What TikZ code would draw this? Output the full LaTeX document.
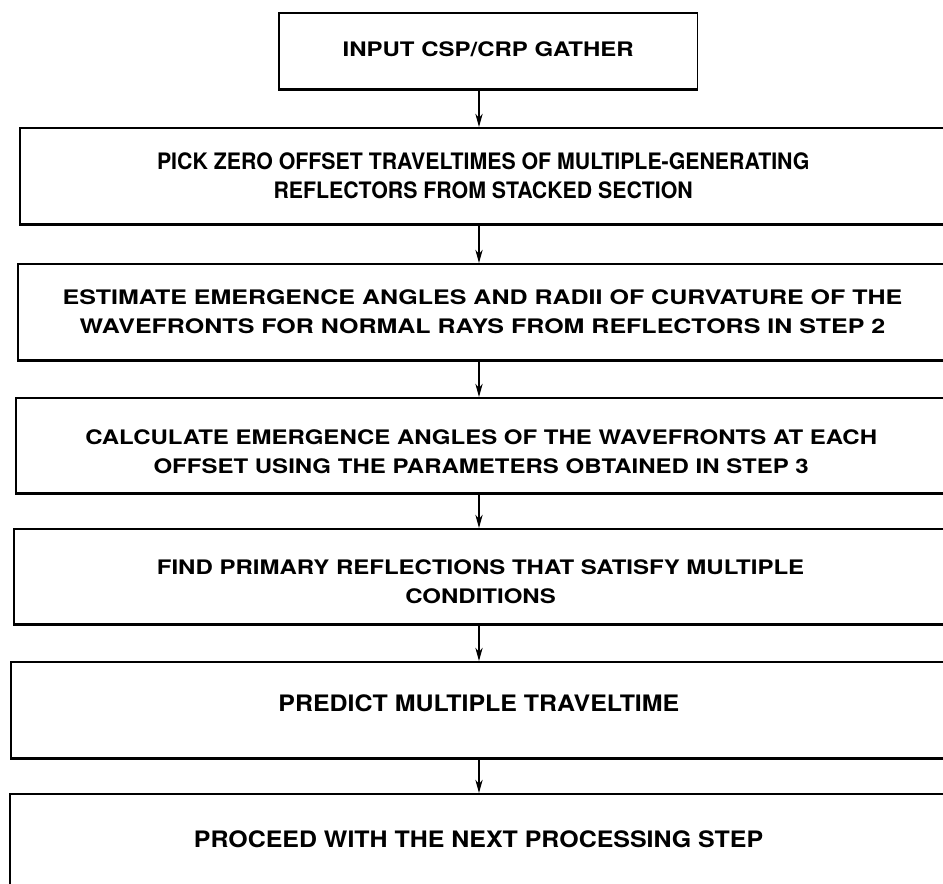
\documentclass[tikz,border=0pt]{standalone}
\usepackage{fontspec}
\setmainfont{TeX Gyre Heros}
\newfontfamily\widefont[FakeStretch=1.2]{TeX Gyre Heros}
\newfontfamily\widerfont[FakeStretch=1.25]{TeX Gyre Heros}
\newfontfamily\narrowfont[FakeStretch=0.94]{TeX Gyre Heros}
\newfontfamily\midfont[FakeStretch=1.1]{TeX Gyre Heros}
\usetikzlibrary{arrows.meta}
\tikzset{stepbox/.style={draw,line width=1.3pt,anchor=north west,inner sep=0pt}}
\tikzset{steptext/.style={align=center,inner sep=0pt,font=\widefont\bfseries\fontsize{15}{21.75}\selectfont}}
\tikzset{narrowtext/.style={steptext,font=\narrowfont\bfseries\fontsize{17}{21.75}\selectfont}}
\tikzset{flow/.style={-{Stealth[length=10pt,width=5.5pt]},line width=1.1pt}}

\begin{document}
\begin{tikzpicture}[x=0.75pt,y=-0.75pt]
    \useasboundingbox (0,0) rectangle (943,884);
    % boxes
    \node [stepbox,minimum width=314pt,minimum height=57pt] (b1) at (278,12) {};
    \node [stepbox,minimum width=695pt,minimum height=72pt] (b2) at (19,127) {};
    \node [stepbox,minimum width=697pt,minimum height=72pt] (b3) at (17,263) {};
    \node [stepbox,minimum width=698pt,minimum height=71pt] (b4) at (15,397) {};
    \node [stepbox,minimum width=700pt,minimum height=71pt] (b5) at (13,528) {};
    \node [stepbox,minimum width=702pt,minimum height=72pt] (b6) at (10,661) {};
    \node [stepbox,minimum width=703pt,minimum height=68pt] (b7) at (9,793) {};
    % heavier bottom edges
    \foreach \b in {b1,b2,b3,b4,b5,b6}
        \draw [line width=2.2pt] (\b.south west) -- (\b.south east);
    % texts
    \node [steptext] (t1) at ([yshift=1pt]b1.center) {INPUT CSP/CRP GATHER};
    \node [narrowtext] (t2) at (b2.center)
        {PICK ZERO OFFSET TRAVELTIMES OF MULTIPLE-GENERATING\\REFLECTORS FROM STACKED SECTION};
    \node [steptext,font=\widerfont\bfseries\fontsize{15}{21.75}\selectfont] (t3) at (b3.center)
        {ESTIMATE EMERGENCE ANGLES AND RADII OF CURVATURE OF THE\\WAVEFRONTS FOR NORMAL RAYS FROM REFLECTORS IN STEP 2};
    \node [steptext] (t4) at ([yshift=-5pt]b4.center)
        {CALCULATE EMERGENCE ANGLES OF THE WAVEFRONTS AT EACH\\OFFSET USING THE PARAMETERS OBTAINED IN STEP 3};
    \node [steptext] (t5) at ([yshift=-4.5pt]b5.center)
        {FIND PRIMARY REFLECTIONS THAT SATISFY MULTIPLE\\CONDITIONS};
    \node [narrowtext,font=\midfont\bfseries\fontsize{17}{21.75}\selectfont] (t6) at ([yshift=5pt]b6.center)
        {PREDICT MULTIPLE TRAVELTIME};
    \node [narrowtext,font=\midfont\bfseries\fontsize{17}{21.75}\selectfont] (t7) at (b7.center)
        {PROCEED WITH THE NEXT PROCESSING STEP};
    % arrows
    \coordinate (axis) at (479,0);
    \foreach \a/\b in {b1/b2,b2/b3,b3/b4,b4/b5,b5/b6,b6/b7}
        \draw [flow] (\a.south -| axis) -- (\b.north -| axis);
\end{tikzpicture}
\end{document}
